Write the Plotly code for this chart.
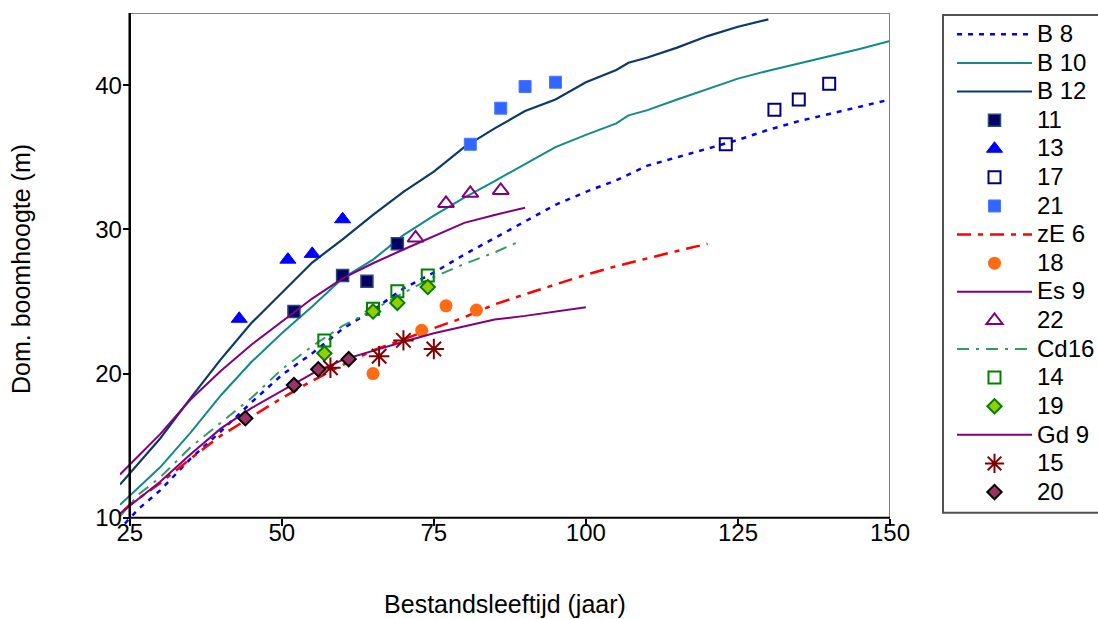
import plotly.graph_objects as go

# ---------------- data ----------------
# Curves
b8_x = [24.2, 26.4, 30, 35, 40, 45, 50, 55, 60, 65, 70, 75, 80, 85, 90, 95, 100, 105, 110, 115, 120, 125, 130, 135, 140, 145, 150]
b8_y = [9.6, 10.6, 11.9, 14.1, 16.0, 18.0, 19.9, 21.4, 23.1, 24.4, 25.9, 27.0, 28.25, 29.4, 30.6, 31.7, 32.6, 33.4, 34.4, 35.0, 35.6, 36.2, 36.9, 37.5, 38.0, 38.5, 39.0]

b10_x = [23.4, 30, 35, 40, 45, 50, 55, 60, 65, 70, 75, 80, 85, 90, 95, 100, 105, 107, 110, 115, 120, 125, 130, 135, 140, 145, 150]
b10_y = [10.9, 13.5, 15.9, 18.5, 20.8, 22.8, 24.65, 26.6, 27.9, 29.6, 30.95, 32.2, 33.35, 34.5, 35.7, 36.55, 37.35, 37.9, 38.25, 39.0, 39.75, 40.45, 41.0, 41.5, 42.05, 42.5, 43.06]

b12_x = [23.4, 30, 35, 40, 45, 50, 55, 60, 65, 70, 75, 80, 85, 90, 95, 100, 105, 107, 110, 115, 120, 125, 130]
b12_y = [12.3, 15.5, 18.3, 21.0, 23.5, 25.6, 27.7, 29.3, 31.0, 32.6, 34.0, 35.7, 37.0, 38.2, 39.0, 40.2, 41.05, 41.55, 41.9, 42.6, 43.4, 44.05, 44.56]

ze6_x = [24.0, 25, 30, 35, 40, 45, 50, 55, 60, 65, 70, 75, 80, 85, 90, 95, 100, 105, 110, 115, 120]
ze6_y = [10.5, 10.9, 12.4, 14.1, 15.7, 17.0, 18.3, 19.5, 20.6, 21.6, 22.4, 23.15, 23.9, 24.8, 25.5, 26.2, 26.85, 27.45, 28.0, 28.5, 29.0]

es9_x = [23.4, 30, 35, 40, 45, 50, 55, 60, 65, 70, 75, 80, 85, 90]
es9_y = [13.0, 15.8, 18.2, 20.2, 22.0, 23.6, 25.2, 26.6, 27.65, 28.6, 29.5, 30.45, 31.0, 31.5]

cd16_x = [23.4, 26.4, 30, 35, 40, 45, 50, 55, 60, 65, 70, 75, 80, 85, 89]
cd16_y = [10.1, 11.6, 12.8, 14.9, 16.6, 18.3, 20.3, 21.9, 23.3, 24.4, 25.6, 26.7, 27.6, 28.4, 29.15]

gd9_x = [23.4, 30, 35, 40, 45, 50, 55, 60, 65, 70, 75, 80, 85, 90, 95, 100]
gd9_y = [10.3, 12.5, 14.4, 16.2, 17.6, 18.8, 20.0, 20.95, 21.6, 22.2, 22.8, 23.3, 23.75, 24.0, 24.3, 24.6]

# Observations
s11_x = [52, 60, 64, 69]
s11_y = [24.3, 26.8, 26.4, 29.0]
s13_x = [43, 51, 55, 60]
s13_y = [23.8, 27.9, 28.3, 30.7]
s17_x = [123, 131, 135, 140]
s17_y = [35.9, 38.3, 39.0, 40.1]
s21_x = [81, 86, 90, 95]
s21_y = [35.9, 38.4, 39.9, 40.2]
s18_x = [65, 73, 77, 82]
s18_y = [20.0, 23.0, 24.7, 24.4]
s22_x = [72, 77, 81, 86]
s22_y = [29.4, 31.8, 32.5, 32.7]
s14_x = [57, 65, 69, 74]
s14_y = [22.3, 24.5, 25.7, 26.8]
s19_x = [57, 65, 69, 74]
s19_y = [21.4, 24.3, 24.9, 26.0]
s15_x = [58, 66, 70, 75]
s15_y = [20.4, 21.2, 22.3, 21.7]
s20_x = [44, 52, 56, 61]
s20_y = [16.9, 19.2, 20.3, 21.0]

x_ticks = [25, 50, 75, 100, 125, 150]
y_ticks = [10, 20, 30, 40]

X_MIN, X_MAX = 23.4, 150
Y_MIN, Y_MAX = 9.5, 45
X_AX, Y_AX = 25, 10

FONT = "Liberation Sans, Arial, sans-serif"
LEG_TXT = 24

fig = go.Figure()


def lbl(name):
    return '<span style="font-size:%dpx">%s</span>' % (LEG_TXT, name)


def line(x, y, name, color, width=2, dash="solid"):
    fig.add_trace(go.Scatter(x=x, y=y, name=lbl(name), mode="lines",
                             line=dict(color=color, width=width, dash=dash)))


def pts(x, y, name, symbol, color, size, lcolor=None, lwidth=0):
    fig.add_trace(go.Scatter(x=x, y=y, name=lbl(name), mode="markers",
                             marker=dict(symbol=symbol, color=color, size=size,
                                         line=dict(color=lcolor or color, width=lwidth))))


line(b8_x, b8_y, "B 8", "#0000FF", 2.5, "5px,6px")
line(b10_x, b10_y, "B 10", "#108A8A", 2)
line(b12_x, b12_y, "B 12", "#0B3A68", 2.2)
pts(s11_x, s11_y, "11", "square", "#000066", 12, "#2A4A7A", 1.5)
pts(s13_x, s13_y, "13", "triangle-up", "#0000FF", 14, "#0000FF", 1)
pts(s17_x, s17_y, "17", "square-open", "#000080", 12, "#000080", 2)
pts(s21_x, s21_y, "21", "square", "#3366FF", 12, "#4A77FF", 1)
line(ze6_x, ze6_y, "zE 6", "#FF0000", 2.5, "14px,7px,5px,7px")
pts(s18_x, s18_y, "18", "circle", "#FF6A13", 13)
line(es9_x, es9_y, "Es 9", "#800080", 2)
pts(s22_x, s22_y, "22", "triangle-up-open", "#800080", 14, "#800080", 2)
line(cd16_x, cd16_y, "Cd16", "#339966", 2, "12px,7px,3px,7px")
pts(s14_x, s14_y, "14", "square-open", "#008000", 12, "#008000", 2)
pts(s19_x, s19_y, "19", "diamond", "#99CC00", 11, "#008000", 2)
line(gd9_x, gd9_y, "Gd 9", "#800080", 2)
pts(s15_x, s15_y, "15", "asterisk-open", "#800000", 17, "#800000", 2)
pts(s20_x, s20_y, "20", "diamond", "#993366", 11, "#000000", 2)

# axis lines and frame
fig.add_shape(type="line", xref="x", yref="y", x0=X_AX, x1=X_MAX, y0=Y_MAX, y1=Y_MAX,
              line=dict(color="#808080", width=2))
fig.add_shape(type="line", xref="x", yref="y", x0=X_MAX, x1=X_MAX, y0=Y_AX, y1=Y_MAX,
              line=dict(color="#808080", width=2))
fig.add_shape(type="line", xref="x", yref="y", x0=X_AX, x1=X_MAX, y0=Y_AX, y1=Y_AX,
              line=dict(color="#000000", width=2))
fig.add_shape(type="line", xref="x", yref="y", x0=X_AX, x1=X_AX, y0=Y_AX, y1=Y_MAX,
              line=dict(color="#000000", width=2.5))

# legend frame (px: left 943, top 15, bottom 513)
PL, PW, PB, PH = 120, 770, 525.2, 512.2
fig.add_shape(type="rect", xref="paper", yref="paper",
              x0=(943 - PL) / PW, x1=(1140 - PL) / PW,
              y0=(PB - 513) / PH, y1=(PB - 15) / PH,
              line=dict(color="#505050", width=2), fillcolor="rgba(0,0,0,0)")

fig.update_layout(
    width=1098, height=619,
    paper_bgcolor="white", plot_bgcolor="white",
    margin=dict(l=120, r=208, t=13, b=94, autoexpand=False),
    font=dict(family=FONT, size=24, color="#000000"),
    showlegend=True,
    legend=dict(x=(952 - PL) / PW, xanchor="left", y=(PB - 15) / PH, yanchor="top",
                borderwidth=0, bgcolor="rgba(0,0,0,0)",
                font=dict(family=FONT, size=19.7, color="#000000"),
                itemwidth=75, tracegroupgap=0),
    xaxis=dict(range=[X_MIN, X_MAX], tickmode="array", tickvals=x_ticks,
               showgrid=False, zeroline=False, showline=False,
               ticks="outside", ticklen=7, tickwidth=1.5, tickcolor="#000000",
               anchor="free", position=(Y_AX - Y_MIN) / (Y_MAX - Y_MIN),
               tickfont=dict(size=24), ticklabelstandoff=-14,
               title=dict(text="Bestandsleeftijd (jaar)", font=dict(size=25), standoff=50)),
    yaxis=dict(range=[Y_MIN, Y_MAX], tickmode="array", tickvals=y_ticks,
               showgrid=False, zeroline=False, showline=False,
               ticks="outside", ticklen=7, tickwidth=1.5, tickcolor="#000000",
               anchor="free", position=(X_AX - X_MIN) / (X_MAX - X_MIN),
               tickfont=dict(size=24), ticklabelstandoff=-4,
               title=dict(text="Dom. boomhoogte (m)", font=dict(size=25), standoff=56)),
)

fig.write_html("out.html", config={"displayModeBar": False},
               post_script="document.body.style.margin='0px';")
